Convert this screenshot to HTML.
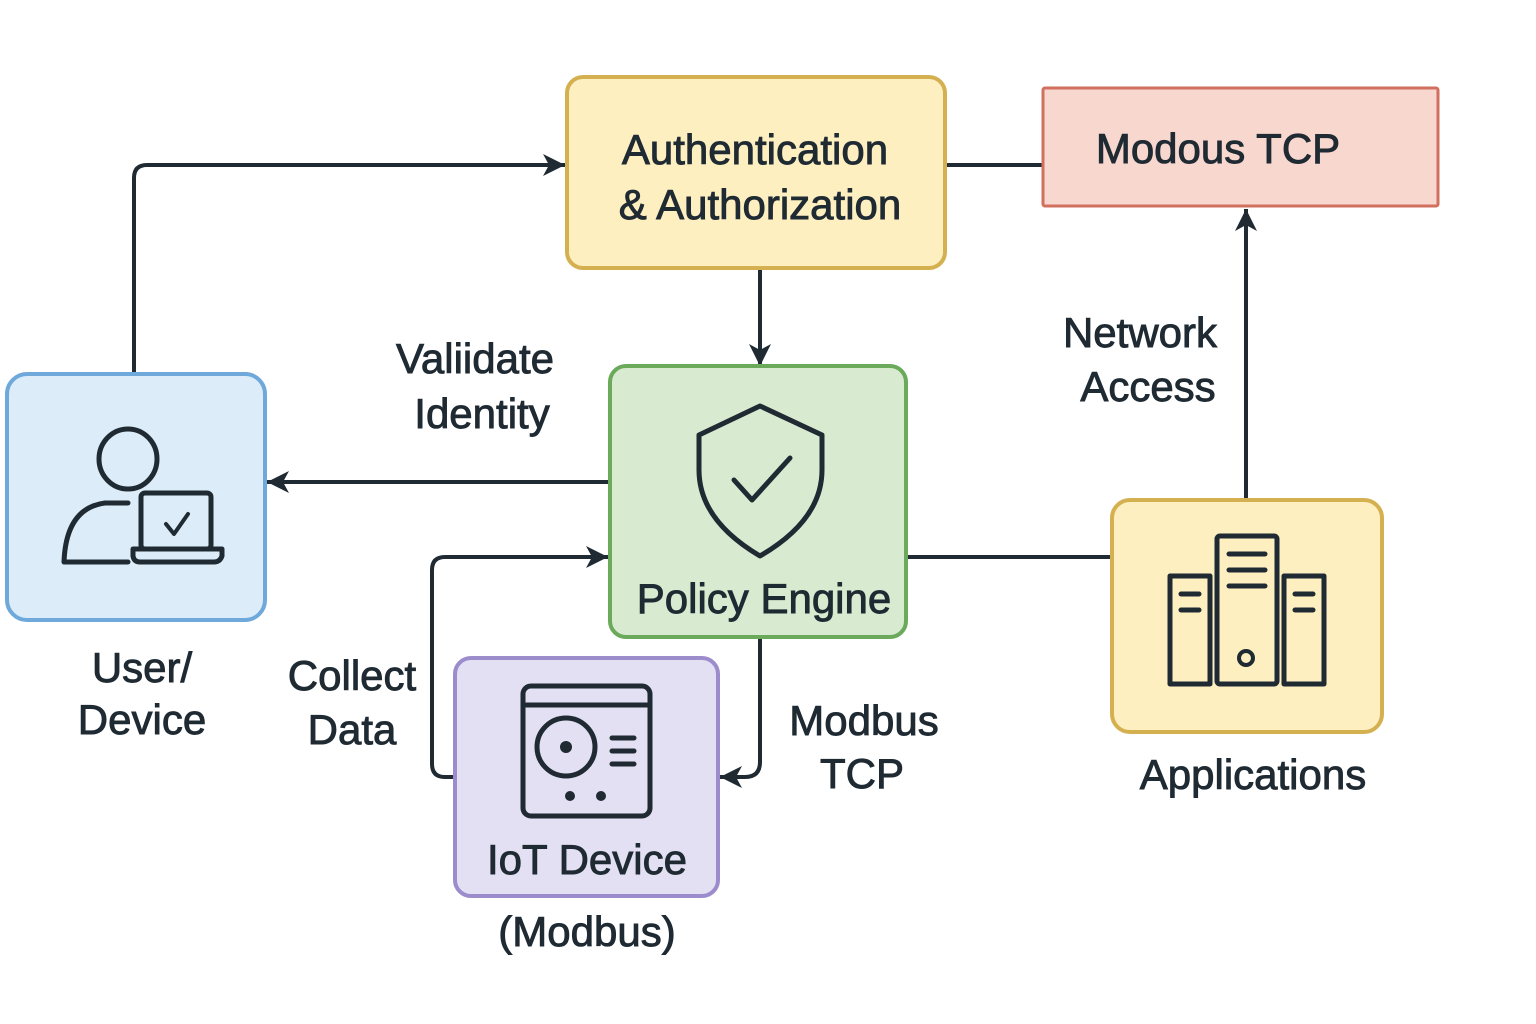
<!DOCTYPE html>
<html><head><meta charset="utf-8"><style>html,body{margin:0;padding:0;background:#fff}svg{display:block}</style></head>
<body>
<svg width="1536" height="1024" viewBox="0 0 1536 1024" xmlns="http://www.w3.org/2000/svg" font-family="Liberation Sans, sans-serif" fill="#1f2a33">
<defs>
<marker id="m" viewBox="-24 -12 26 24" refX="0" refY="0" markerWidth="26" markerHeight="24" orient="auto" markerUnits="userSpaceOnUse"><path d="M0,0 L-22,-11 L-16,0 L-22,11 Z" fill="#1f2a33"/></marker>
</defs>
<g stroke="#1f2a33" stroke-width="4" fill="none">
<path d="M134,372 V178 Q134,165 147,165 H565" marker-end="url(#m)"/>
<path d="M760,268 V366" marker-end="url(#m)"/>
<path d="M610,482 H267" marker-end="url(#m)"/>
<path d="M455,777 H445 Q432,777 432,764 V570 Q432,557 445,557 H608" marker-end="url(#m)"/>
<path d="M760,637 V762 Q760,777 745,777 H720" marker-end="url(#m)"/>
<path d="M906,557 H1112"/>
<path d="M945,165 H1043"/>
<path d="M1246,500 V209" marker-end="url(#m)"/>
</g>
<rect x="567" y="77" width="378" height="191" rx="16" fill="#fdefc0" stroke="#d4b050" stroke-width="4"/>
<rect x="1043" y="88" width="395" height="118" rx="2" fill="#f8d7cf" stroke="#d2705f" stroke-width="3"/>
<rect x="7" y="374" width="258" height="246" rx="20" fill="#dcedf9" stroke="#6fa8da" stroke-width="4"/>
<rect x="610" y="366" width="296" height="271" rx="16" fill="#d8ebd0" stroke="#6aaa5a" stroke-width="4"/>
<rect x="455" y="658" width="263" height="238" rx="16" fill="#e3e0f3" stroke="#9d8ccc" stroke-width="4"/>
<rect x="1112" y="500" width="270" height="232" rx="18" fill="#fdefc0" stroke="#d4b050" stroke-width="4"/>
<g stroke="#1f2a33" stroke-width="5" fill="none" stroke-linejoin="round" stroke-linecap="round">
<ellipse cx="128" cy="459" rx="29" ry="30"/>
<path d="M128,503 H105 Q66,508 64,562 H128"/>
<rect x="141" y="493" width="70" height="56" rx="4"/>
<path d="M133,549 H222 V556 Q220,562 214,562 H140 Q134,562 133,556 Z"/>
<path d="M166,524 L174,534 L188,514" stroke-width="4"/>
<path d="M760,406 L822,435 V470 Q822,520 760,556 Q699,520 699,470 V435 Z"/>
<path d="M734,480 L752,500 L790,458"/>
<rect x="523" y="686" width="127" height="130" rx="8"/>
<path d="M523,705 H650"/>
<circle cx="566" cy="747" r="29"/>
<path d="M612,738 H634 M612,751 H634 M612,764 H634"/>
<rect x="1170" y="576" width="40" height="108"/>
<rect x="1217" y="536" width="60" height="148" rx="3"/>
<rect x="1284" y="576" width="40" height="108"/>
<path d="M1181,594 H1199 M1181,610 H1199 M1229,554 H1265 M1229,570 H1265 M1229,586 H1265 M1295,594 H1313 M1295,610 H1313"/>
<circle cx="1246" cy="658" r="7" stroke-width="4"/>
</g>
<circle cx="566" cy="747" r="6"/><circle cx="570" cy="796" r="5"/><circle cx="601" cy="796" r="5"/>
<g font-size="42" text-anchor="middle" stroke="#1f2a33" stroke-width="0.9">
<text x="755" y="164">Authentication</text>
<text x="760" y="219">&amp; Authorization</text>
<text x="1218" y="163">Modous TCP</text>
<text x="764" y="613">Policy Engine</text>
<text x="587" y="874">IoT Device</text>
<text x="587" y="946">(Modbus)</text>
<text x="1253" y="789">Applications</text>
<text x="475" y="373">Valiidate</text>
<text x="482" y="428">Identity</text>
<text x="1140" y="347">Network</text>
<text x="1148" y="401">Access</text>
<text x="142" y="682">User/</text>
<text x="142" y="734">Device</text>
<text x="352" y="690">Collect</text>
<text x="352" y="744">Data</text>
<text x="864" y="735">Modbus</text>
<text x="862" y="788">TCP</text>
</g>
</svg>
</body></html>
